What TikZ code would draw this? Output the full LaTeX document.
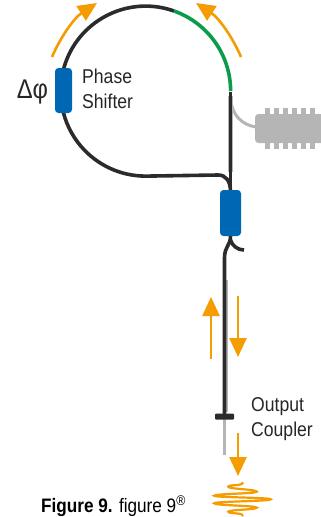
\documentclass[tikz,border=0pt]{standalone}
\usepackage{fontspec}
\setmainfont[FakeStretch=0.88]{Liberation Sans}
\usetikzlibrary{arrows.meta}
\definecolor{wgblack}{HTML}{2B2B2B}
\definecolor{wggreen}{HTML}{0A9B4B}
\definecolor{wggrey}{HTML}{B4B5B4}
\definecolor{modblue}{HTML}{0067B4}
\definecolor{arrorange}{HTML}{F59C00}
\tikzset{
  wg/.style={draw=wgblack,line width=3.6pt},
  wgtap/.style={draw=wggrey,line width=3pt},
  modbox/.style={fill=modblue,draw=none,rounded corners=3.5pt,minimum width=#1,inner sep=0pt},
  flow/.style={draw=arrorange,line width=2.6pt,-{Triangle[length=19pt,width=17pt]}},
  label/.style={text=black!85,align=left,anchor=west,inner sep=0pt,font=\fontsize{20}{25}\selectfont},
}
\begin{document}
\begin{tikzpicture}[x=1pt,y=-1pt]
\useasboundingbox (0,0) rectangle (321,517);
% named points
\coordinate (T1) at (230.5,92);
\coordinate (T2) at (174,11);
\coordinate (LE) at (218,175);
\coordinate (JN) at (230.5,192);
\coordinate (F0) at (230.5,236);
\coordinate (F1) at (224.5,258);
\coordinate (F2) at (244,250);
\coordinate (OC) at (224.5,416.5);
\coordinate (OE) at (224.5,455);
% grey tap and chip
\draw[wgtap] (231,100) .. controls (232,115) and (242,125) .. (256,127);
\foreach \xx in {265,274,283,292,301,310}{
  \fill[wggrey] (\xx,108) rectangle +(5,41);
}
\fill[wggrey,rounded corners=3.5pt] (255,114) rectangle (325,143);
% ring
\draw[wg] (T2) arc[start angle=-70.5,end angle=-270,radius=85] -- (LE) .. controls (226,175) and (230.5,181) .. (JN);
\draw[wggrey,line width=5pt] (230.3,96) -- (230.3,172);
\draw[wg] (T1) -- (230.5,195);
\draw[draw=wggreen,line width=3.6pt] (T2) arc[start angle=-70.5,end angle=0,radius=85];
% fork and output
\draw[wggrey,line width=1.4pt] (227,280) -- (227,412);
\draw[wg] (F0) .. controls (230.5,246) and (224.5,246) .. (F1) -- (224.5,414);
\draw[wg] (230.5,240) .. controls (232,246) and (238,250) .. (F2);
\draw[wggrey,line width=3pt] (OC) -- (OE);
\node[fill=wgblack,rounded corners=1pt,minimum width=19pt,minimum height=6pt,inner sep=0pt] (crossbar) at (OC) {};
% modulators
\node[modbox=17pt,minimum height=45pt] (shifter) at (63.5,90.5) {};
\node[modbox=21pt,minimum height=46pt] (coupler) at (230.5,213) {};
% orange arrows
\draw[flow] (52,57) .. controls (60,38) and (74,18) .. (97,3);
\draw[flow] (241,57) .. controls (233,38) and (219,18) .. (196,3);
\draw[flow] (211,359) -- (211,297);
\draw[flow] (238,296) -- (238,357);
\draw[flow] (238,433) -- (238,476);
% wave packet
\draw[arrorange,line width=2.2pt,line cap=round]
 (242.7,482.7) .. controls (242.7,486) and (228.3,484.5) .. (228.3,486.7)
 .. controls (228.3,489.2) and (256.7,489.2) .. (256.7,491.7)
 .. controls (256.7,493.7) and (214.3,493.7) .. (214.3,495.7)
 .. controls (214.3,497.5) and (270.7,497.5) .. (270.7,499.3)
 .. controls (270.7,501.3) and (214.3,501.3) .. (214.3,503.3)
 .. controls (214.3,505.5) and (256.7,505.5) .. (256.7,507.7)
 .. controls (256.7,509.7) and (228.3,509.7) .. (228.3,511.7)
 .. controls (228.3,513.9) and (242.7,512.5) .. (242.7,515.7);
% labels
\node[label] (ps) at (82,88.5) {Phase\\Shifter};
\node[text=black!85,inner sep=0pt,font=\fontsize{27}{30}\selectfont] (dphi) at (32.5,92) {Δφ};
\node[label] (oc) at (251,419) {Output\\Coupler};
\node[anchor=west,inner sep=0pt,text=black,font=\fontsize{19.5}{22}\selectfont] (cap) at (41,506) {\textbf{Figure 9.} figure 9\raisebox{0.35em}{\fontsize{14}{14}\selectfont ®}};
\end{tikzpicture}
\end{document}
